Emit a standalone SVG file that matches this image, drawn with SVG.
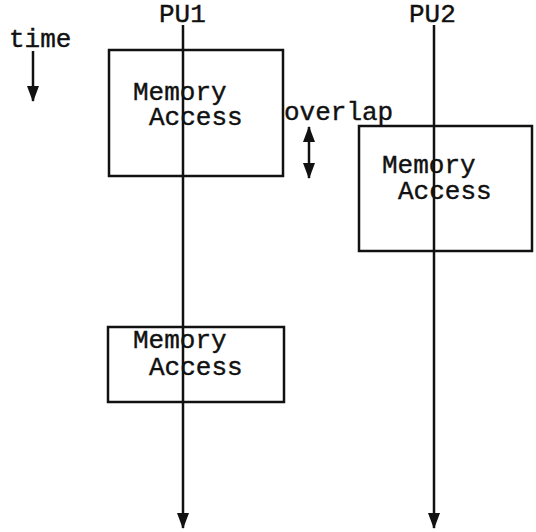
<svg xmlns="http://www.w3.org/2000/svg" width="536" height="532" viewBox="0 0 536 532">
<style>
text{font-family:"Liberation Mono","Courier New",monospace;font-size:26px;fill:#111;stroke:#111;stroke-width:0.4}
.box{fill:none;stroke:#111;stroke-width:2.5}
.ln{stroke:#111;stroke-width:2.5;fill:none}
</style>
<defs>
<marker id="tri" viewBox="0 0 16 12" refX="15" refY="6" markerWidth="16" markerHeight="12" markerUnits="userSpaceOnUse" orient="auto-start-reverse">
<path d="M0,0 L16,6 L0,12 Z" fill="#111"/>
</marker>
</defs>
<rect width="536" height="532" fill="#fff"/>
<g id="time">
<text x="9" y="47">time</text>
</g>
<g id="pu1-label"><text x="159" y="22">PU1</text></g>
<g id="pu2-label"><text x="409" y="22">PU2</text></g>
<g id="box1">
<rect class="box" x="109" y="50" width="174" height="126"/>
<text x="133" y="100">Memory</text>
<text x="149" y="125">Access</text>
</g>
<g id="box2">
<rect class="box" x="359" y="126" width="173" height="125"/>
<text x="382" y="173">Memory</text>
<text x="398" y="199">Access</text>
</g>
<g id="box3">
<rect class="box" x="108" y="327" width="176" height="75"/>
<text x="133" y="348">Memory</text>
<text x="149" y="375">Access</text>
</g>
<g id="overlap-label"><text x="284" y="120">overlap</text></g>
<g id="connectors">
<line class="ln" x1="33" y1="51" x2="33" y2="101" marker-end="url(#tri)"/>
<line class="ln" x1="183" y1="25" x2="183" y2="528" marker-end="url(#tri)"/>
<line class="ln" x1="434" y1="25" x2="434" y2="528" marker-end="url(#tri)"/>
<line class="ln" x1="309" y1="127" x2="309" y2="178" marker-start="url(#tri)" marker-end="url(#tri)"/>
</g>
</svg>
